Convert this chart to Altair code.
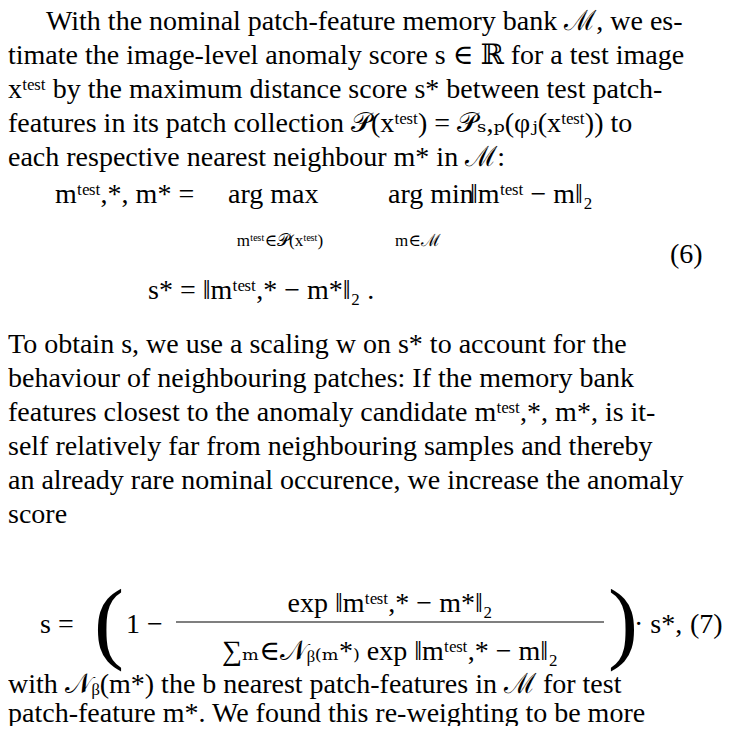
import altair as alt
import pandas as pd

# text segments of the page: text, left/center anchor x, baseline row y, size
texts = [
    "With the nominal patch-feature memory bank ℳ, we es-",
    "timate the image-level anomaly score s ∈ ℝ for a test image",
    "xᵗᵉˢᵗ by the maximum distance score s* between test patch-",
    "features in its patch collection 𝒫(xᵗᵉˢᵗ) = 𝒫ₛ,ₚ(φⱼ(xᵗᵉˢᵗ)) to",
    "each respective nearest neighbour m* in ℳ:",
    "mᵗᵉˢᵗ,*, m* =",
    "arg max",
    "arg min",
    "‖mᵗᵉˢᵗ − m‖₂",
    "mᵗᵉˢᵗ∈𝒫(xᵗᵉˢᵗ)",
    "m∈ℳ",
    "(6)",
    "s* = ‖mᵗᵉˢᵗ,* − m*‖₂ .",
    "To obtain s, we use a scaling w on s* to account for the",
    "behaviour of neighbouring patches: If the memory bank",
    "features closest to the anomaly candidate mᵗᵉˢᵗ,*, m*, is it-",
    "self relatively far from neighbouring samples and thereby",
    "an already rare nominal occurence, we increase the anomaly",
    "score",
    "s =",
    "(",
    "1 −",
    "exp ‖mᵗᵉˢᵗ,* − m*‖₂",
    "∑ₘ∈𝒩ᵦ₍ₘ*₎ exp ‖mᵗᵉˢᵗ,* − m‖₂",
    ")",
    "· s*,",
    "(7)",
    "with 𝒩ᵦ(m*) the b nearest patch-features in ℳ for test",
    "patch-feature m*. We found this re-weighting to be more",
]
xs = [38, 0, 0, 0, 0, 47, 220, 380, 462, 272, 410, 662, 140,
      0, 0, 0, 0, 0, 0, 32, 86, 118, 382, 382, 600, 626, 682, 0, 0]
ys = [22, 56, 90, 124, 158, 195, 195, 195, 195, 238, 238, 255, 291,
      345, 379, 413, 447, 481, 515, 625, 644, 625, 604, 652, 644, 625, 625, 685, 714]
sizes = [28] * 9 + [17, 17, 28, 28] + [28] * 6 + [28, 90, 28, 28, 28, 90, 28, 28, 28, 28]
aligns = ["left"] * 9 + ["center", "center"] + ["left"] * 11 + ["center", "center"] + ["left"] * 5

df = pd.DataFrame({"t": texts, "x": xs, "y": ys, "size": sizes, "align": aligns})

x_scale = alt.Scale(domain=[0, 736], range=[0, 736])
y_scale = alt.Scale(domain=[0, 718], range=[0, 718])

def layer(align):
    return (
        alt.Chart(df[df["align"] == align])
        .mark_text(align=align, baseline="alphabetic",
                   font="Liberation Serif, Times New Roman, DejaVu Serif, serif", color="black")
        .encode(
            x=alt.X("x:Q", scale=x_scale, axis=None),
            y=alt.Y("y:Q", scale=y_scale, axis=None),
            text="t:N",
            size=alt.Size("size:Q", scale=None, legend=None),
        )
    )

frac = pd.DataFrame({"x": [168], "x2": [596], "y": [614]})
rule = (
    alt.Chart(frac)
    .mark_rule(color="black", strokeWidth=1.2)
    .encode(
        x=alt.X("x:Q", scale=x_scale, axis=None),
        x2="x2:Q",
        y=alt.Y("y:Q", scale=y_scale, axis=None),
    )
)

chart = (
    alt.layer(layer("left"), layer("center"), rule)
    .properties(width=736, height=718, autosize="none", padding=0, background="white")
    .configure_view(stroke=None)
)

chart.save("out.html", embed_options={"renderer": "svg", "actions": False})
